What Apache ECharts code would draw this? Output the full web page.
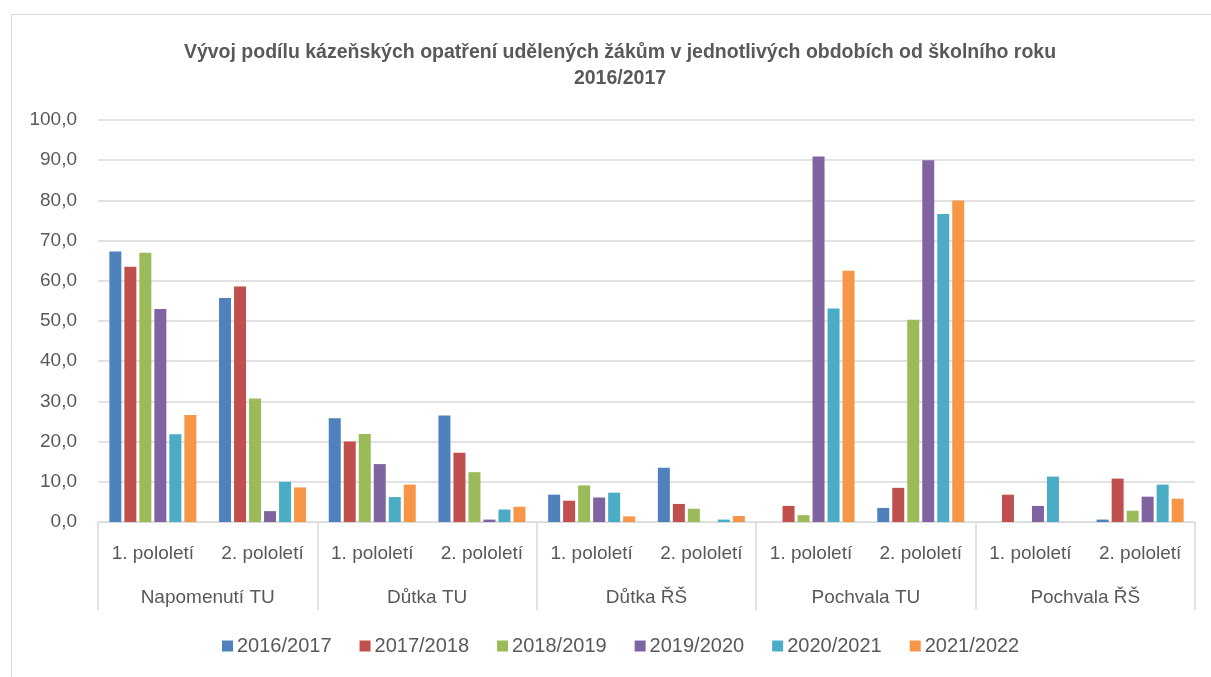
<!DOCTYPE html>
<html>
<head>
<meta charset="utf-8">
<script src="https://cdn.jsdelivr.net/npm/echarts@6/dist/echarts.min.js"></script>
<style>html,body{margin:0;padding:0;background:#fff}#c{width:1211px;height:677px}</style>
</head>
<body>
<div id="c"></div>
<script>
const subCategories = ['1. pololetí','2. pololetí','1. pololetí','2. pololetí','1. pololetí','2. pololetí','1. pololetí','2. pololetí','1. pololetí','2. pololetí'];
const groups = ['Napomenutí TU','Důtka TU','Důtka ŘŠ','Pochvala TU','Pochvala ŘŠ'];
const seriesNames = ['2016/2017','2017/2018','2018/2019','2019/2020','2020/2021','2021/2022'];
const s2016 = [67.3, 55.7, 25.8, 26.5, 6.8, 13.5, 0, 3.5, 0, 0.6];
const s2017 = [63.5, 58.6, 20.0, 17.2, 5.3, 4.5, 4.0, 8.5, 6.8, 10.8];
const s2018 = [67.0, 30.7, 21.9, 12.4, 9.1, 3.3, 1.7, 50.3, 0, 2.8];
const s2019 = [53.0, 2.7, 14.4, 0.6, 6.1, 0, 90.9, 90.0, 4.0, 6.3];
const s2020 = [21.8, 10.0, 6.2, 3.1, 7.3, 0.6, 53.1, 76.6, 11.3, 9.3];
const s2021 = [26.6, 8.6, 9.3, 3.8, 1.4, 1.5, 62.5, 80.0, 0, 5.8];
const yTicks = [0,10,20,30,40,50,60,70,80,90,100];
const colors = ['#4F81BD','#C0504D','#9BBB59','#8064A2','#4BACC6','#F79646'];
const allData = [s2016, s2017, s2018, s2019, s2020, s2021];

const FONT = '"Liberation Sans", Arial, sans-serif';
const chart = echarts.init(document.getElementById('c'));
chart.setOption({
  animation: false,
  color: colors,
  graphic: [{
    type: 'rect', left: 9, top: 12, silent: true,
    shape: {x: 0, y: 0, width: 1400, height: 800},
    style: {fill: 'none', stroke: '#d9d9d9', lineWidth: 1}
  }],
  title: {
    text: 'Vývoj podílu kázeňských opatření udělených žákům v jednotlivých obdobích od školního roku\n2016/2017',
    left: 615, textAlign: 'center', top: 35,
    textStyle: {fontFamily: '"Liberation Sans Narrow", ' + FONT, fontWeight: 'bold', fontSize: 19.5, color: '#595959', lineHeight: 26}
  },
  legend: {
    data: seriesNames, top: 631, left: 217,
    itemWidth: 11, itemHeight: 11, itemGap: 28, icon: 'rect',
    textStyle: {fontFamily: FONT, fontSize: 20, color: '#595959', padding: [0,0,0,-1]}
  },
  grid: {left: 98, right: 16, top: 120, bottom: 155, containLabel: false},
  xAxis: [{
    type: 'category', data: subCategories, position: 'bottom',
    axisLine: {show: true, lineStyle: {color: '#d9d9d9', width: 1}},
    axisTick: {show: false},
    axisLabel: {fontFamily: FONT, fontSize: 19, color: '#595959', margin: 22, interval: 0}
  }, {
    type: 'category', data: groups, position: 'bottom', offset: 0,
    axisLine: {show: true, lineStyle: {color: '#d9d9d9', width: 1}},
    axisTick: {show: true, length: 88, lineStyle: {color: '#d9d9d9', width: 1.5}},
    axisLabel: {fontFamily: FONT, fontSize: 19, color: '#595959', margin: 66, interval: 0}
  }],
  yAxis: {
    type: 'value', min: 0, max: 100, interval: 10,
    axisLine: {show: false}, axisTick: {show: false},
    splitLine: {lineStyle: {color: '#d9d9d9', width: 1.5}},
    axisLabel: {fontFamily: FONT, fontSize: 19, color: '#595959', margin: 21,
      formatter: v => v.toFixed(1).replace('.', ',')}
  },
  series: seriesNames.map((n, i) => ({
    name: n, type: 'bar', xAxisIndex: 0, data: allData[i],
    barWidth: 12, barGap: '25%'
  }))
});
</script>
</body>
</html>
